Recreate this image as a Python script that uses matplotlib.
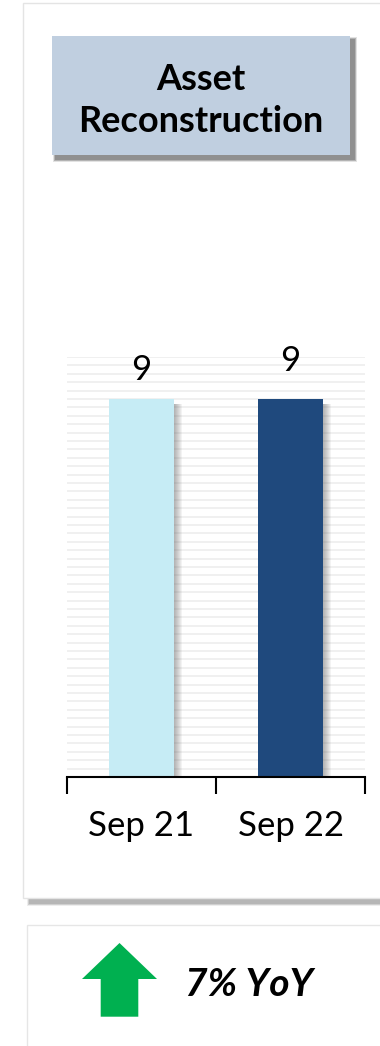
import matplotlib
matplotlib.use("Agg")
import matplotlib.pyplot as plt
from matplotlib.patches import Rectangle, Polygon
import numpy as np

# Data
categories = ["Sep 21", "Sep 22"]
values = [9, 9]
bar_colors = ["#C6ECF5", "#1F497D"]
title_lines = ["Asset", "Reconstruction"]
yoy_text = "7% YoY"
y_max = 10
grid_step = 0.2

W, H = 380, 1046
DPI = 100
FONT = ["Lato", "DejaVu Sans"]

fig = plt.figure(figsize=(W / DPI, H / DPI), dpi=DPI)
fig.patch.set_facecolor("white")


def fx(px):
    return px / W


def fy(py):
    return 1 - py / H


def frect(x0, y0, x1, y1, **kw):
    """Rectangle given in pixel coords measured from the top-left corner."""
    return Rectangle((fx(x0), fy(y1)), fx(x1) - fx(x0), (y1 - y0) / H,
                     transform=fig.transFigure, **kw)


def soft_shadow(x0, y0, x1, y1, dx, dy, steps=6, color="#404040", alpha=0.12, z=0):
    for i in range(steps):
        g = steps - i
        fig.patches.append(frect(x0 + dx - g * 0.6, y0 + dy - g * 0.6,
                                 x1 + dx + g * 0.6, y1 + dy + g * 0.6,
                                 facecolor=color, edgecolor="none",
                                 alpha=alpha, zorder=z))


# Top panel with a shadow along its bottom edge
soft_shadow(30, 860, 400, 898, 0, 5, steps=5, color="#555555", alpha=0.10, z=0)
fig.patches.append(frect(23, 3, 400, 898, facecolor="white",
                         edgecolor="#E4E4E4", linewidth=1.0, zorder=1))

# Bottom panel
fig.patches.append(frect(27, 925, 400, 1060, facecolor="white",
                         edgecolor="#E6E6E6", linewidth=1.0, zorder=1))

# Title box with shadow
soft_shadow(52, 36, 350, 155, 4, 4, steps=5, color="#333333", alpha=0.14, z=2)
fig.patches.append(frect(52, 36, 350, 155, facecolor="#C0CFE0",
                         edgecolor="none", zorder=3))
for line, cy in zip(title_lines, [76, 118]):
    fig.text(fx(201), fy(cy), line, ha="center", va="center_baseline",
             fontsize=26, fontweight="bold", family=FONT, color="black", zorder=4)

# Bar chart axes
ax = fig.add_axes([fx(67), fy(777), fx(365) - fx(67), 420 / H])
ax.set_zorder(5)
ax.patch.set_alpha(0)
x = np.arange(len(categories))
bar_w = 0.436

# light horizontal gridlines
for gy in np.arange(grid_step, y_max + 1e-9, grid_step):
    ax.axhline(gy, color="#EFEFEF", linewidth=1.3, zorder=0)

# shadows on right side of bars
for xi, v in zip(x, values):
    for k in range(8):
        ax.add_patch(Rectangle((xi - bar_w / 2 + 0.004 + k * 0.007, 0), bar_w, v - 0.12,
                               facecolor="#606060", edgecolor="none",
                               alpha=0.07, zorder=1))

ax.bar(x, values, width=bar_w, color=bar_colors, edgecolor="none", zorder=2)

label_offsets = [13, 22]
for xi, v, off in zip(x, values, label_offsets):
    ax.annotate(f"{v:g}", (xi, v), xytext=(0, off), textcoords="offset pixels",
                ha="center", va="bottom", fontsize=25, family=FONT, color="black")

ax.set_xlim(-0.5, len(categories) - 0.5)
ax.set_ylim(0, y_max)
ax.set_yticks([])
ax.set_xticks(x)
ax.set_xticklabels(categories, fontsize=25, family=FONT)
ax.tick_params(axis="x", which="major", length=0, pad=24)
ax.set_xticks(np.arange(-0.5, len(categories), 1.0), minor=True)
ax.tick_params(axis="x", which="minor", length=12, width=1.5, color="black",
               direction="out")
for side in ["top", "right", "left"]:
    ax.spines[side].set_visible(False)
ax.spines["bottom"].set_linewidth(1.5)
ax.spines["bottom"].set_color("black")

# Up arrow and YoY text
arrow = [(119.5, 943), (157, 979), (138.3, 979), (138.3, 1016.7),
         (100.7, 1016.7), (100.7, 979), (82, 979)]
fig.patches.append(Polygon([(fx(px), fy(py)) for px, py in arrow], closed=True,
                           transform=fig.transFigure, facecolor="#00B050",
                           edgecolor="none", zorder=4))
fig.text(fx(185), fy(984), yoy_text, ha="left", va="center", fontsize=28,
         fontweight="bold", fontstyle="italic", family=FONT, color="black", zorder=4)

fig.savefig("out.png", dpi=DPI, facecolor="white")
